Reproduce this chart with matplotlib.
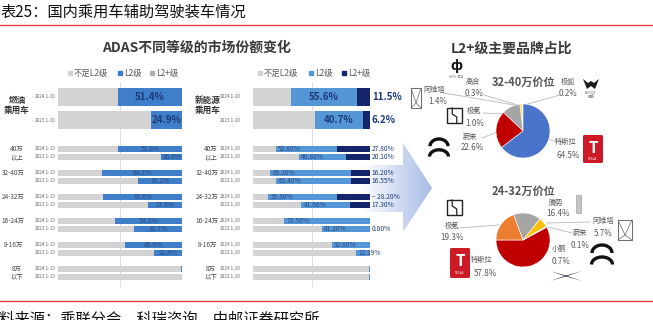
import numpy as np
import matplotlib
matplotlib.use("Agg")
import matplotlib.pyplot as plt
from matplotlib.patches import Polygon, Rectangle, FancyBboxPatch
from matplotlib.colors import LinearSegmentedColormap

plt.rcParams['font.family'] = ['Noto Sans CJK SC', 'DejaVu Sans']

# ---------------- data ----------------
segments = ["总体", "40万以上", "32-40万", "24-32万", "16-24万", "8-16万", "8万以下"]
seg_labels_left = ["燃油\n乘用车", "40万\n以上", "32-40万", "24-32万", "16-24万", "8-16万", "8万\n以下"]
seg_labels_right = ["新能源\n乘用车", "40万\n以上", "32-40万", "24-32万", "16-24万", "8-16万", "8万\n以下"]
period_labels = ["2024.1-10", "2023.1-10"]
legend_labels = ["不足L2级", "L2级", "L2+级"]

fuel_L2_2024 = [51.4, 51.6, 64.2, 63.6, 54.3, 45.8, 1.0]
fuel_L2_2023 = [24.9, 16.6, 35.2, 27.6, 38.7, 22.4, 0.0]
fuel_lbl_2024 = ["51.4%", "51.6%", "64.2%", "63.6%", "54.3%", "45.8%", ""]
fuel_lbl_2023 = ["24.9%", "16.6%", "35.2%", "27.6%", "38.7%", "22.4%", ""]

nev_L2_2024 = [55.6, 52.8, 69.2, 58.8, 73.5, 32.8, 1.0]
nev_L2p_2024 = [11.5, 27.8, 16.2, 28.2, 0.0, 0.0, 0.0]
nev_L2_2023 = [40.7, 40.8, 63.4, 41.6, 41.2, 12.19, 1.0]
nev_L2p_2023 = [6.2, 20.1, 16.55, 17.3, 0.0, 0.0, 0.0]
nev_lbl_2024 = ["55.6%", "52.80%", "69.20%", "58.80%", "73.50%", "32.80%", ""]
nev_lbl_2023 = ["40.7%", "40.80%", "63.40%", "41.60%", "41.20%", "12.19%", ""]
nev_p_lbl_2024 = ["11.5%", "27.80%", "16.20%", "– 28.20%", "", "", ""]
nev_p_lbl_2023 = ["6.2%", "20.10%", "16.55%", "17.30%", "0.00%", "", ""]

pie1_names = ["极狐", "高合", "阿维塔", "极氪", "蔚来", "特斯拉"]
pie1_values = [0.2, 0.3, 1.4, 11.0, 22.6, 64.5]
pie1_texts = ["0.2%", "0.3%", "1.4%", "1.0%", "22.6%", "64.5%"]
pie2_names = ["特斯拉", "小鹏", "蔚来", "阿维塔", "腾势", "极氪"]
pie2_values = [57.8, 0.7, 0.1, 5.7, 16.4, 19.3]
pie2_texts = ["57.8%", "0.7%", "0.1%", "5.7%", "16.4%", "19.3%"]

# ---------------- styles ----------------
C_GRAY = "#d3d3d3"
C_L2_L = "#3f7ec8"
C_L2_R = "#5596d6"
C_L2P = "#15256b"
C_TXT = "#595959"

W, H = 653, 320
fig = plt.figure(figsize=(W / 100, H / 100), dpi=100)
fig.patch.set_facecolor("white")

bg = fig.add_axes([0, 0, 1, 1])
bg.set_xlim(0, W)
bg.set_ylim(H, 0)
bg.axis("off")


def px_axes(x0, y0, x1, y1, z=2):
    a = fig.add_axes([x0 / W, 1 - y1 / H, (x1 - x0) / W, (y1 - y0) / H], zorder=z)
    a.patch.set_alpha(0)
    return a


# header / footer
bg.text(0, 12, "表25：国内乘用车辅助驾驶装车情况", fontsize=11, va="center", ha="left", color="#111")
bg.plot([0, W], [25, 25], color="#e0393e", lw=1.0)
bg.plot([0, W], [301, 301], color="#e0393e", lw=1.0)
bg.text(-16, 319, "资料来源：乘联分会，科瑞咨询，中邮证券研究所", fontsize=11, va="center", ha="left", color="#111")

# arrow with gradient
arrow_pts = [(360, 165), (403, 165), (403, 143), (432, 188), (403, 232), (403, 212), (360, 212)]
poly = Polygon(arrow_pts, closed=True, facecolor="none", edgecolor="none")
bg.add_patch(poly)
grad = np.linspace(0, 1, 200)[None, :]
cmap = LinearSegmentedColormap.from_list("g", ["#ffffff", "#a9bce6"])
im = bg.imshow(grad, extent=[360, 432, 232, 143], cmap=cmap, aspect="auto", zorder=1)
im.set_clip_path(poly)
bg.set_xlim(0, W)
bg.set_ylim(H, 0)

# titles
bg.text(197, 48, "ADAS不同等级的市场份额变化", fontsize=10, fontweight="bold", ha="center", va="center", color="#3a3a3a")
bg.text(512, 49, "L2+级主要品牌占比", fontsize=10, fontweight="bold", ha="center", va="center", color="#3a3a3a")

# legends
def legend(x_positions, colors):
    for (x, c, t) in zip(x_positions, colors, legend_labels):
        bg.add_patch(Rectangle((x, 71), 4, 4, color=c, zorder=3))
        bg.text(x + 6, 73, t, fontsize=6, ha="left", va="center", color=C_TXT)

legend([68, 118, 150], [C_GRAY, C_L2_L, "#b0b0b0"])
legend([258, 309, 342], [C_GRAY, C_L2_R, C_L2P])

# layout of rows (pixel positions)
n = len(segments)
y24 = [97] + [149 + 24 * i for i in range(n - 1)]
y23 = [120] + [157 + 24 * i for i in range(n - 1)]
hts = [18] + [6.5] * (n - 1)

# ---------------- bar charts ----------------
axL = px_axes(58, 82, 182, 287)
axR = px_axes(253, 82, 370, 287)
for ax in (axL, axR):
    ax.set_xlim(0, 100)
    ax.set_ylim(287, 82)
    ax.axis("off")
    ax.axvline(50, color="#d9d9d9", lw=0.6, zorder=0)

for ys, vals, lbls in ((y24, fuel_L2_2024, fuel_lbl_2024), (y23, fuel_L2_2023, fuel_lbl_2023)):
    gray = [100 - v for v in vals]
    axL.barh(ys, gray, height=hts, left=0, color=C_GRAY, zorder=2)
    axL.barh(ys, vals, height=hts, left=gray, color=C_L2_L, zorder=2)
    for i, (y, g, v, t) in enumerate(zip(ys, gray, vals, lbls)):
        if t:
            big = i == 0
            axL.text(g + v / 2, y, t, ha="center", va="center",
                     fontsize=7 if big else 4.8, color="#1d3a78" if big else "#2c4c80",
                     fontweight="bold" if big else "normal", zorder=3)

for ys, l2, l2p, lbls, plbls in ((y24, nev_L2_2024, nev_L2p_2024, nev_lbl_2024, nev_p_lbl_2024),
                                  (y23, nev_L2_2023, nev_L2p_2023, nev_lbl_2023, nev_p_lbl_2023)):
    gray = [100 - a - b for a, b in zip(l2, l2p)]
    axR.barh(ys, gray, height=hts, left=0, color=C_GRAY, zorder=2)
    axR.barh(ys, l2, height=hts, left=gray, color=C_L2_R, zorder=2)
    axR.barh(ys, l2p, height=hts, left=[g + a for g, a in zip(gray, l2)], color=C_L2P, zorder=2)
    for i, (y, g, v, t, pt) in enumerate(zip(ys, gray, l2, lbls, plbls)):
        big = i == 0
        if t:
            if big:
                axR.text(g + v / 2, y, t, ha="center", va="center", fontsize=7,
                         color="#1d3a78", fontweight="bold", zorder=3)
            else:
                axR.text(g + 2, y, t, ha="left", va="center", fontsize=4.8,
                         color="#2c4c80", zorder=3)
        if pt:
            axR.text(101.5, y, pt, ha="left", va="center", fontsize=7 if big else 4.8,
                     color="#1d3a78", fontweight="bold" if big else "normal",
                     clip_on=False, zorder=3)

# tick labels and segment labels
for xr, seg_lbls, xc2, xc1, xbig in ((56, seg_labels_left, 17, 13, 17),
                                     (241, seg_labels_right, 211, 207, 208)):
    for i in range(n):
        bg.text(xr, y24[i], period_labels[0], fontsize=3.3, ha="right", va="center", color="#666")
        bg.text(xr, y23[i], period_labels[1], fontsize=3.3, ha="right", va="center", color="#666")
        lab = seg_lbls[i]
        if i == 0:
            bg.text(xbig, (y24[i] + y23[i]) / 2 - 3, lab, fontsize=6.2, fontweight="bold",
                    ha="center", va="center", color="#333", linespacing=1.1)
        elif "\n" in lab:
            bg.text(xc2, (y24[i] + y23[i]) / 2, lab, fontsize=4.6, ha="center", va="center",
                    color="#444", linespacing=1.0)
        else:
            bg.text(xc1, y24[i], lab, fontsize=4.6, ha="center", va="center", color="#444")

# ---------------- pies ----------------
p1 = px_axes(496, 104, 550, 158, z=3)
p1.pie(pie1_values, startangle=90, counterclock=True,
       colors=["#ffc000", "#e8e8e8", "#ffd84a", "#a5a5a5", "#c00000", "#4a74c9"],
       wedgeprops=dict(edgecolor="white", linewidth=0.4))
p1.set_xlim(-1, 1); p1.set_ylim(-1, 1)
p2 = px_axes(496, 213, 550, 267, z=3)
p2.pie(pie2_values, startangle=180, counterclock=True,
       colors=["#c00000", "#4472c4", "#264478", "#ffc000", "#a5a5a5", "#ed7d31"],
       wedgeprops=dict(edgecolor="white", linewidth=0.4))
p2.set_xlim(-1, 1); p2.set_ylim(-1, 1)

bg.text(524, 82, "32-40万价位", fontsize=8, fontweight="bold", ha="center", va="center", color="#555")
bg.text(523, 191, "24-32万价位", fontsize=8, fontweight="bold", ha="center", va="center", color="#555")

def plabel(name, pct, xn, yn, xp, yp):
    bg.text(xn, yn, name, fontsize=5.2, ha="center", va="center", color=C_TXT)
    bg.text(xp, yp, pct, fontsize=5.8, ha="center", va="center", color=C_TXT)

pos1 = {"极狐": (568, 82, 568, 94), "高合": (473, 82, 474, 94), "阿维塔": (434, 90, 438, 102),
        "极氪": (474, 111, 475, 124), "蔚来": (470, 137, 472, 148), "特斯拉": (566, 142, 568, 155)}
for nm, tx in zip(pie1_names, pie1_texts):
    plabel(nm, tx, *pos1[nm])
pos2 = {"腾势": (556, 203, 558, 214), "阿维塔": (603, 221, 603, 233), "蔚来": (580, 233, 580, 246),
        "小鹏": (559, 249, 561, 261), "极氪": (452, 226, 452, 237), "特斯拉": (482, 260, 485, 273)}
for nm, tx in zip(pie2_names, pie2_texts):
    plabel(nm, tx, *pos2[nm])

lc = "#b8b8b8"
for seg in [((484, 95), (521, 106)), ((444, 93), (520, 106)), ((560, 95), (524, 105)),
            ((484, 113), (505, 114)), ((482, 138), (500, 131)), ((557, 142), (548, 139)),
            ((459, 228), (499, 225)), ((590, 222), (547, 223)), ((572, 233), (548, 227))]:
    bg.plot([seg[0][0], seg[1][0]], [seg[0][1], seg[1][1]], color=lc, lw=0.6, zorder=2)

# ---------------- logos (simplified) ----------------
def tesla(x, y, w, h):
    bg.add_patch(FancyBboxPatch((x, y), w, h, boxstyle="round,pad=0,rounding_size=1.5",
                                facecolor="#cc1b26", edgecolor="none", zorder=3))
    bg.text(x + w / 2, y + h * 0.45, "T", fontsize=11, fontweight="bold", color="white",
            ha="center", va="center", zorder=4)
    bg.text(x + w / 2, y + h * 0.85, "TESLA", fontsize=2.3, color="white", ha="center", va="center", zorder=4)

def zeekr(x, y, s):
    bg.add_patch(Rectangle((x, y), s, s, facecolor="none", edgecolor="#222", lw=1.0, zorder=3))
    bg.plot([x + s * 0.35, x + s * 0.35, x + s * 0.65, x + s * 0.65],
            [y, y + s * 0.4, y + s * 0.6, y + s], color="#222", lw=0.9, zorder=3)

def nio(cx, cy, r):
    t = np.linspace(0, np.pi, 40)
    bg.plot(cx + r * np.cos(t), cy - 0.2 * r - r * 0.8 * np.sin(t), color="#111", lw=2.4,
            solid_capstyle="butt", zorder=3)
    bg.plot(cx + r * 1.05 * np.cos(t), cy + 0.95 * r - r * 0.75 * np.sin(t), color="#111", lw=2.4,
            solid_capstyle="butt", zorder=3)

def avatr(x, y, w, h):
    bg.add_patch(Rectangle((x, y), w, h, facecolor="none", edgecolor="#555", lw=0.6, zorder=3))
    bg.plot([x, x + w / 2, x + w], [y, y + h * 0.75, y], color="#666", lw=0.5, zorder=3)
    bg.plot([x, x + w / 2, x + w], [y + h, y + h * 0.75, y + h], color="#666", lw=0.5, zorder=3)

def xpeng(cx, cy, w, h):
    for s in (1, -1):
        bg.add_patch(Polygon([(cx - w / 2, cy - s * h / 2), (cx, cy - s * 0.5), (cx + w / 2, cy + s * h / 2),
                              (cx, cy + s * 0.5)], closed=True, facecolor="#3b3f55", edgecolor="none", zorder=3))

def arcfox(cx, cy):
    pts = [(cx - 8, cy - 6), (cx - 3, cy - 2), (cx, cy - 4), (cx + 3, cy - 2), (cx + 8, cy - 6),
           (cx + 4, cy + 4), (cx, cy + 1), (cx - 4, cy + 4)]
    bg.add_patch(Polygon(pts, closed=True, facecolor="#1a1a1a", edgecolor="none", zorder=3))
    bg.text(cx, cy + 8, "ARCFOX", fontsize=2.2, color="#666", ha="center", va="center")
    bg.text(cx, cy + 12, "极狐", fontsize=2.6, color="#555", ha="center", va="center")

# pie 1 logos
bg.text(456, 66, "ф", fontsize=10, fontweight="bold", color="#111", ha="center", va="center")
bg.text(456, 77, "HiPhi  高合", fontsize=2.2, color="#777", ha="center", va="center")
avatr(411, 88, 10, 20)
arcfox(591, 85)
zeekr(447, 108, 15)
nio(439, 148, 9)
tesla(583, 135, 20, 28)
# pie 2 logos
zeekr(447, 200, 15)
tesla(450, 248, 20, 30)
bg.add_patch(Rectangle((576, 195), 5, 18, facecolor="#c4c4c4", edgecolor="#999", lw=0.4, zorder=3))
avatr(618, 220, 14, 20)
nio(602, 255, 10)
xpeng(566, 276, 32, 10)

fig.savefig("out.png", dpi=100, facecolor="white")
